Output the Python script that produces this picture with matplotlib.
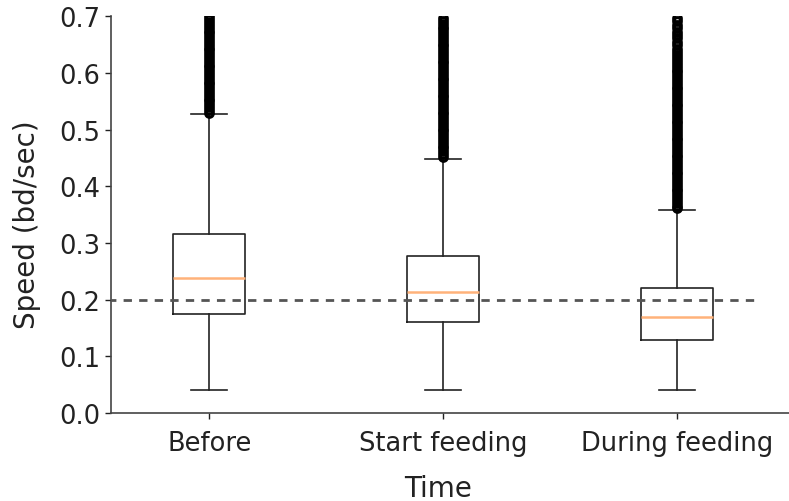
import matplotlib
matplotlib.use("Agg")
import matplotlib.pyplot as plt

# Speed summaries per feeding phase (body lengths per second)
phases = ["Before", "Start feeding", "During feeding"]
whisker_low = [0.040, 0.040, 0.040]
q1 = [0.174, 0.161, 0.128]
median = [0.239, 0.213, 0.169]
q3 = [0.316, 0.277, 0.220]
whisker_high = [0.527, 0.449, 0.358]

# Outlying speeds above the upper whisker
fliers_before = [0.530, 0.535, 0.540, 0.545, 0.550, 0.555, 0.560, 0.565, 0.570,
                 0.575, 0.580, 0.585, 0.590, 0.595, 0.600, 0.605, 0.610, 0.615,
                 0.620, 0.625, 0.630, 0.635, 0.640, 0.645, 0.650, 0.655, 0.660,
                 0.665, 0.670, 0.675, 0.680, 0.685, 0.690, 0.695, 0.700, 0.710]
fliers_start = [0.452, 0.457, 0.462, 0.467, 0.472, 0.477, 0.482, 0.487, 0.492,
                0.497, 0.502, 0.507, 0.512, 0.517, 0.522, 0.527, 0.532, 0.537,
                0.542, 0.547, 0.552, 0.557, 0.562, 0.567, 0.572, 0.577, 0.582,
                0.587, 0.592, 0.597, 0.602, 0.607, 0.612, 0.617, 0.622, 0.627,
                0.632, 0.637, 0.642, 0.647, 0.652, 0.657, 0.662, 0.667, 0.672,
                0.677, 0.682, 0.687, 0.692, 0.697]
fliers_during = [0.361, 0.366, 0.371, 0.376, 0.381, 0.386, 0.391, 0.396, 0.401,
                 0.406, 0.411, 0.416, 0.421, 0.426, 0.431, 0.436, 0.441, 0.446,
                 0.451, 0.456, 0.461, 0.466, 0.471, 0.476, 0.481, 0.486, 0.491,
                 0.496, 0.501, 0.506, 0.511, 0.516, 0.521, 0.526, 0.531, 0.536,
                 0.541, 0.546, 0.551, 0.556, 0.561, 0.566, 0.571, 0.576, 0.581,
                 0.586, 0.591, 0.596, 0.601, 0.606, 0.611, 0.616, 0.621, 0.626,
                 0.631, 0.637, 0.643, 0.649, 0.655, 0.661, 0.667, 0.673, 0.679,
                 0.685, 0.691, 0.697]
fliers = [fliers_before, fliers_start, fliers_during]
threshold = 0.2

yticks = [0.0, 0.1, 0.2, 0.3, 0.4, 0.5, 0.6, 0.7]

stats = []
for name, lo, a, m, b, hi, fl in zip(phases, whisker_low, q1, median, q3,
                                     whisker_high, fliers):
    stats.append(dict(label=name, whislo=lo, q1=a, med=m, q3=b, whishi=hi,
                      fliers=fl))

fig = plt.figure(figsize=(7.89, 5.02), dpi=100)
ax = fig.add_axes([111 / 789, 88 / 502, 1 - 111 / 789, (414 - 17.4) / 502])

ax.bxp(stats, positions=[1, 2, 3], widths=0.31,
       boxprops=dict(color="#222222", linewidth=1.2),
       whiskerprops=dict(color="#222222", linewidth=1.2),
       capprops=dict(color="#222222", linewidth=1.2),
       medianprops=dict(color="#ffb27a", linewidth=1.8),
       flierprops=dict(marker="o", markerfacecolor="none",
                       markeredgecolor="black", markersize=5.5,
                       markeredgewidth=2.2))

ax.hlines(threshold, 0.5, 3.355, colors="#555555", linewidth=2.0,
          linestyles=(0, (3, 2.6)), zorder=3)

ax.set_xlim(0.58, 3.48)
ax.set_ylim(0.0, 0.7)
ax.set_yticks(yticks)
ax.set_yticklabels([f"{v:.1f}" for v in yticks])

ax.spines["top"].set_visible(False)
ax.spines["right"].set_visible(False)
for s in ("left", "bottom"):
    ax.spines[s].set_color("#444444")
    ax.spines[s].set_linewidth(1.2)

ax.tick_params(axis="both", labelsize=18.5, colors="#222222", length=4,
               width=1.0)
ax.tick_params(axis="x", pad=8)
ax.set_xlabel("Time", fontsize=20, color="#222222")
ax.set_ylabel("Speed (bd/sec)", fontsize=20, color="#222222")
ax.xaxis.set_label_coords((438 - 111) / (789 - 111), -0.155)
ax.yaxis.set_label_coords(-(111 - 41) / (789 - 111), 0.478)

fig.savefig("out.png", dpi=100)
